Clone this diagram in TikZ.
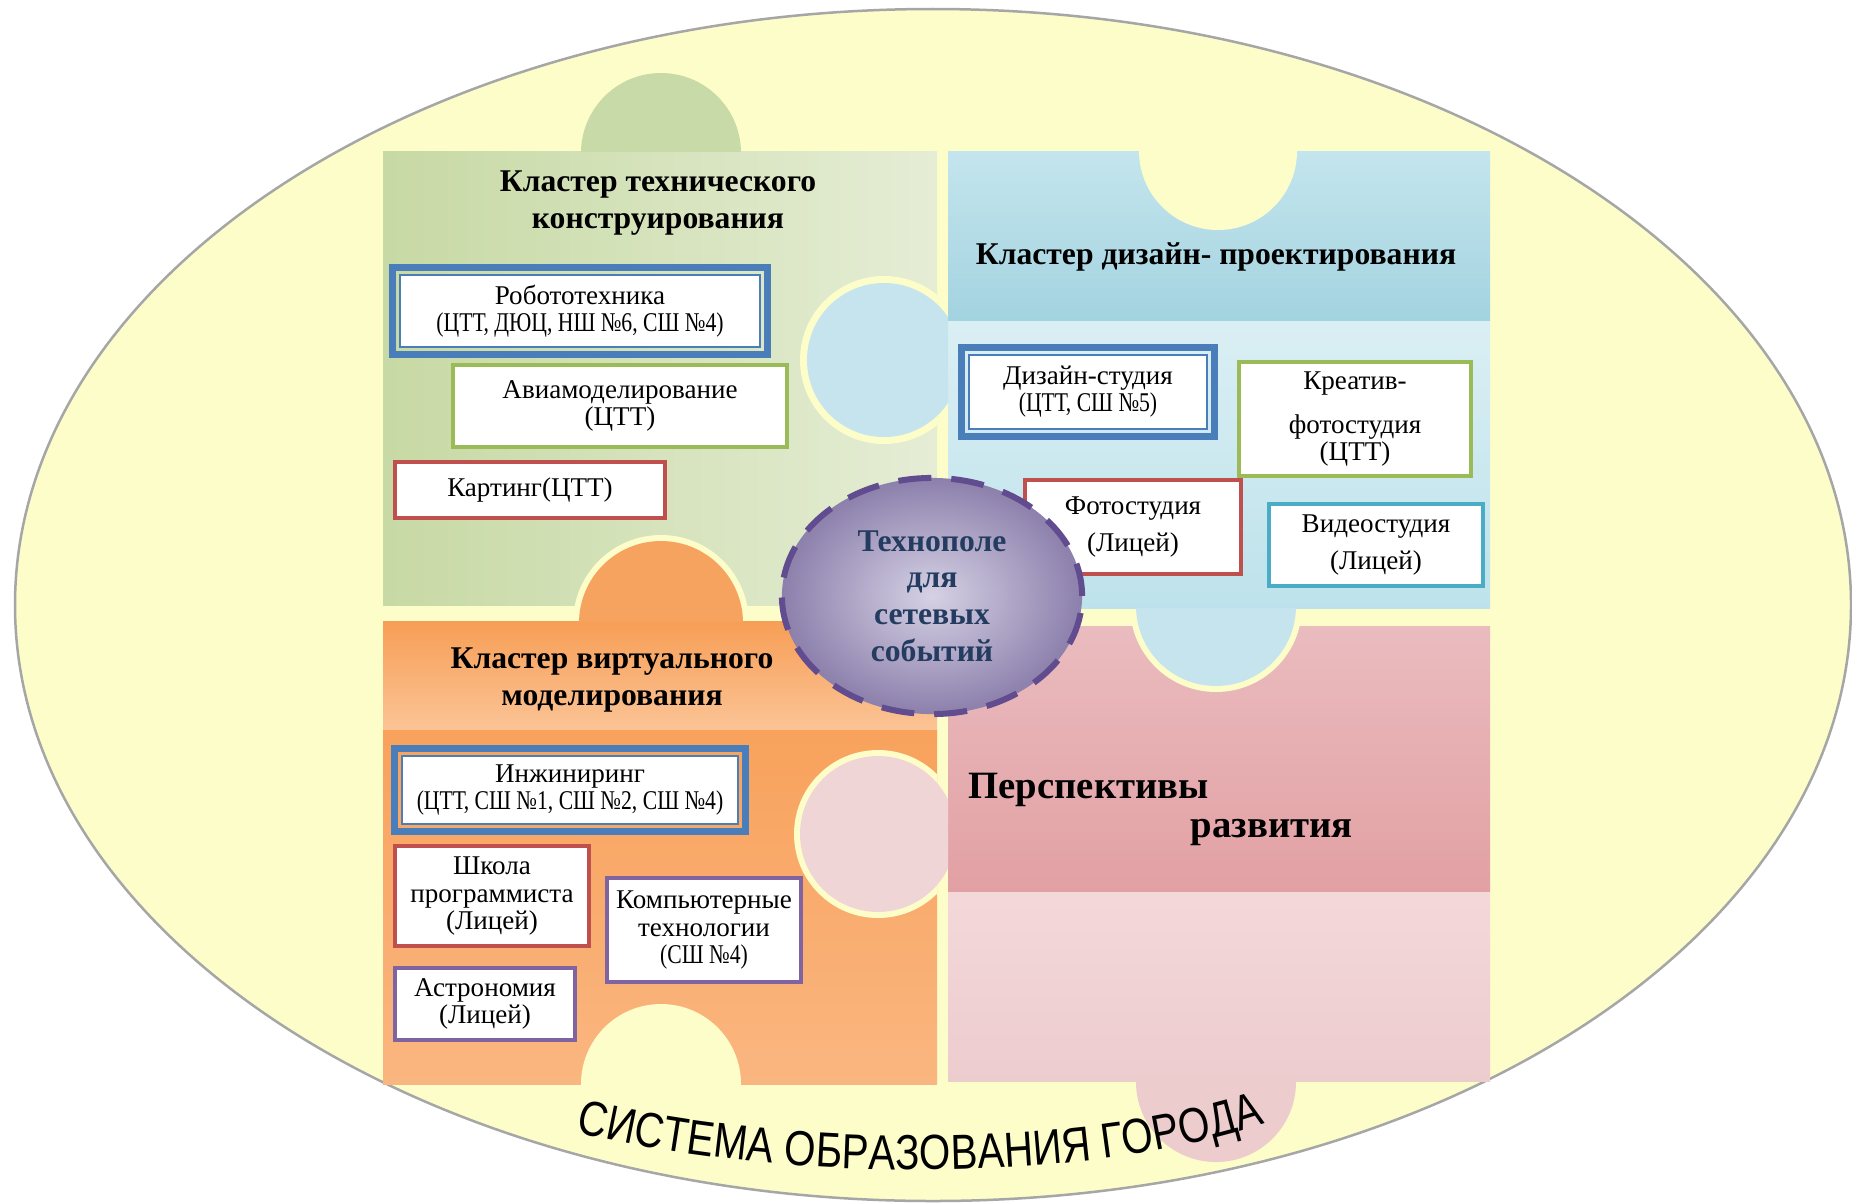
\documentclass[tikz,border=0pt]{standalone}
\usepackage{fontspec}
\setmainfont{Liberation Serif}
\newfontfamily\orgfont[FakeStretch=0.8]{Liberation Serif}
\newfontfamily\cityfont[FakeStretch=0.82]{Liberation Sans}
\usetikzlibrary{shapes.geometric,decorations.text}

\definecolor{bgyellow}{RGB}{253,253,202}
\definecolor{greenA}{RGB}{229,237,213}
\definecolor{greenB}{RGB}{199,217,164}
\definecolor{greenK}{RGB}{200,218,168}
\definecolor{blueA}{RGB}{196,229,237}
\definecolor{blueB}{RGB}{163,211,224}
\definecolor{blueC}{RGB}{218,239,244}
\definecolor{blueD}{RGB}{190,226,235}
\definecolor{blueK}{RGB}{198,228,238}
\definecolor{orangeA}{RGB}{247,158,86}
\definecolor{orangeB}{RGB}{251,196,150}
\definecolor{orangeC}{RGB}{248,162,92}
\definecolor{orangeD}{RGB}{250,182,128}
\definecolor{orangeK}{RGB}{247,163,96}
\definecolor{pinkA}{RGB}{234,188,191}
\definecolor{pinkB}{RGB}{226,160,163}
\definecolor{pinkC}{RGB}{243,216,218}
\definecolor{pinkD}{RGB}{237,204,206}
\definecolor{pinkK}{RGB}{240,213,215}
\definecolor{frblue}{RGB}{74,126,187}
\definecolor{frgreen}{RGB}{155,187,89}
\definecolor{frred}{RGB}{192,80,77}
\definecolor{frpurple}{RGB}{128,100,162}
\definecolor{frcyan}{RGB}{75,172,198}
\definecolor{hubin}{RGB}{214,209,228}
\definecolor{hubout}{RGB}{140,128,172}
\definecolor{hubedge}{RGB}{96,76,142}
\definecolor{hubtext}{RGB}{36,60,96}

\tikzset{
  cltitle/.style={font=\fontsize{9}{10.3}\selectfont\bfseries, align=center, inner sep=0pt},
  ibox/.style={draw=#1, line width=0.4mm, fill=white, align=center, inner sep=0pt,
    font=\fontsize{7.7}{7.7}\selectfont},
  dbox/.style={ibox=frblue, line width=0.2mm},
  dframe/.style={draw=frblue, line width=0.7mm},
  socket/.style={fill=bgyellow},
  hub/.style={ellipse, draw=hubedge, line width=0.6mm, dash pattern=on 3.3mm off 2mm,
    inner color=hubin, outer color=hubout, minimum width=3cm, minimum height=2.36cm,
    align=center, text=hubtext, font=\fontsize{9}{10.4}\selectfont\bfseries}
}

\begin{document}
\begin{tikzpicture}[x=0.01cm, y=-0.01cm]
	\useasboundingbox (0,0) rectangle (1852,1203);
	\fill[white] (0,0) rectangle (1852,1203);
	% city education system
	\draw[gray!70, line width=0.25mm, fill=bgyellow] (933,605) ellipse [x radius=918, y radius=596];
	% puzzle pieces
	\shade[left color=greenB, right color=greenA] (383,151) rectangle (937,254);
	\shade[left color=greenB, right color=greenA] (383,254) rectangle (937,605);
	\shade[top color=blueA, bottom color=blueB] (948,151) rectangle (1490,321);
	\shade[top color=blueC, bottom color=blueD] (948,321) rectangle (1490,608);
	\shade[top color=orangeA, bottom color=orangeB] (383,621) rectangle (937,730);
	\shade[top color=orangeC, bottom color=orangeD] (383,730) rectangle (937,1084);
	\shade[top color=pinkA, bottom color=pinkB] (948,626) rectangle (1490,892);
	\shade[top color=pinkC, bottom color=pinkD] (948,892) rectangle (1490,1081);
	% sockets
	\begin{scope}
		\clip (383,151) rectangle (937,605);
		\fill[socket] (884,360) circle [radius=84];
		\fill[socket] (661,623) circle [radius=88];
	\end{scope}
	\begin{scope}
		\clip (948,151) rectangle (1490,608);
		\fill[socket] (1218,151) circle [radius=79];
	\end{scope}
	\begin{scope}
		\clip (383,621) rectangle (937,1084);
		\fill[socket] (878,834) circle [radius=84];
		\fill[socket] (661,1084) circle [radius=80];
	\end{scope}
	\begin{scope}
		\clip (948,626) rectangle (1490,1081);
		\fill[socket] (1216,606) circle [radius=86];
	\end{scope}
	% knobs
	\begin{scope}
		\clip (0,0) rectangle (1852,151);
		\fill[greenK] (661,153) circle [radius=80];
	\end{scope}
	\begin{scope}
		\clip (0,0) rectangle (1852,621);
		\fill[orangeK] (661,623) circle [radius=82];
	\end{scope}
	\begin{scope}
		\clip (0,0) rectangle (948,1203);
		\fill[blueK] (884,360) circle [radius=77];
		\fill[pinkK] (878,834) circle [radius=78];
	\end{scope}
	\begin{scope}
		\clip (0,608) rectangle (1852,1203);
		\fill[blueK] (1216,606) circle [radius=80];
	\end{scope}
	\begin{scope}
		\clip (0,1081) rectangle (1852,1203);
		\fill[pinkD] (1216,1082) circle [radius=80];
	\end{scope}
	% cluster titles
	\node[cltitle] (techtitle) at (658,203) {Кластер технического\\конструирования};
	\node[cltitle] (designtitle) at (1216,257) {Кластер дизайн- проектирования};
	\node[cltitle] (virttitle) at (612,680) {Кластер виртуального\\моделирования};
	\node[font=\fontsize{11}{13}\selectfont\bfseries, anchor=west, inner sep=0pt] (persp) at (968,790) {Перспективы};
	\node[font=\fontsize{11}{13}\selectfont\bfseries, anchor=west, inner sep=0pt] (devel) at (1190,832) {развития};
	% technical construction
	\node[dbox, minimum width=3.6cm, minimum height=0.72cm] (robot) at (580,311) {Робототехника\\{\orgfont(ЦТТ, ДЮЦ, НШ №6, СШ №4)}};
	\node[ibox=frgreen, minimum width=3.33cm, minimum height=0.81cm] (avia) at (620,406) {Авиамоделирование\\(ЦТТ)};
	\node[ibox=frred, minimum width=2.7cm, minimum height=0.55cm] (kart) at (530,490) {Картинг(ЦТТ)};
	% design
	\node[dbox, minimum width=2.38cm, minimum height=0.74cm] (dstud) at (1088,392) {Дизайн-студия\\{\orgfont(ЦТТ, СШ №5)}};
	\node[ibox=frgreen, minimum width=2.31cm, minimum height=1.14cm] (kreat) at (1355,419) {Креатив-\\[5pt]фотостудия\\(ЦТТ)};
	\node[ibox=frred, minimum width=2.16cm, minimum height=0.93cm] (foto) at (1133,527) {Фотостудия\\[3pt](Лицей)};
	\node[ibox=frcyan, minimum width=2.14cm, minimum height=0.82cm] (video) at (1376,545) {Видеостудия\\[3pt](Лицей)};
	% virtual modelling
	\node[dbox, minimum width=3.35cm, minimum height=0.68cm] (engin) at (570,790) {Инжиниринг\\{\orgfont(ЦТТ, СШ №1, СШ №2, СШ №4)}};
	\node[ibox=frred, minimum width=1.94cm, minimum height=1.0cm] (prog) at (492,896) {Школа\\программиста\\(Лицей)};
	\node[ibox=frpurple, minimum width=1.94cm, minimum height=1.03cm] (comp) at (704,930) {Компьютерные\\технологии\\{\orgfont(СШ №4)}};
	\node[ibox=frpurple, minimum width=1.79cm, minimum height=0.72cm] (astro) at (485,1004) {Астрономия\\(Лицей)};
	\foreach \n in {robot,dstud,engin}
		\draw[dframe] ([shift={(-6.5,-6.5)}]\n.north west) rectangle ([shift={(6.5,6.5)}]\n.south east);
	% network events
	\node[hub] (hub) at (932,596) {Технополе\\для\\сетевых\\событий};
	\path[decorate, decoration={text along path, text align=center,
		text={|\cityfont\fontsize{14}{16}\selectfont|СИСТЕМА ОБРАЗОВАНИЯ ГОРОДА}}]
		(560,1128) .. controls (790,1188) and (1110,1182) .. (1280,1118);
\end{tikzpicture}
\end{document}
